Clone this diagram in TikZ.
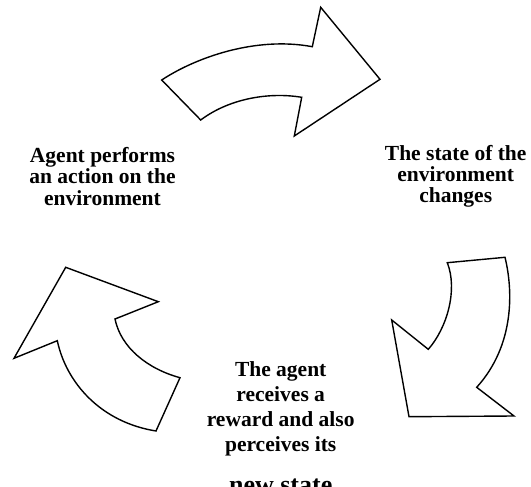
\documentclass[tikz,border=0pt]{standalone}
\usepackage{fontspec}
\setmainfont{Liberation Serif}
\begin{document}
\begin{tikzpicture}[x=1pt,y=-1pt,
  bigarrow/.style={draw=black,fill=white,line width=1.4pt,line join=miter},
  cyclelabel/.style={align=center,inner sep=0pt,anchor=base,
    font=\fontsize{21.5}{21.2}\selectfont\bfseries}]
\useasboundingbox (0,0) rectangle (531,487);
\begin{scope}
\clip (0,0) rectangle (531,487);

% upper arrow: action -> environment changes
\draw[bigarrow] (161.7,80)
  .. controls (195,58) and (255,36) .. (312.3,46.7)
  -- (320.7,7.3) -- (380,79.3) -- (294.3,136) -- (301.7,97.3)
  .. controls (270,92) and (230,98) .. (200.7,120) -- cycle;

% right arrow: environment changes -> reward
\draw[bigarrow] (447.3,262.7) -- (505,257.3)
  .. controls (513,290) and (515,345) .. (476.7,387.3)
  -- (514,416) -- (409,416.7) -- (391.7,320) -- (428.3,349.3)
  .. controls (447,328) and (458,290) .. cycle;

% left arrow: reward -> next action
\draw[bigarrow] (156,431) -- (180,377.7)
  .. controls (148,369) and (121,348) .. (115,319)
  -- (158.3,301.7) -- (65.7,267.3) -- (14,358.3) -- (57.3,340.7)
  .. controls (66,382) and (100,422) .. cycle;

% labels (anchored at the baseline of their last line)
\node[cyclelabel] (act) at (102.5,205)
  {Agent performs\\an action on the\\environment};
\node[cyclelabel] (env) at (455.7,202.7)
  {The state of the\\environment\\changes};
\node[cyclelabel,font=\fontsize{21.5}{25.2}\selectfont\bfseries] (rew) at (280.7,451.7)
  {The agent\\receives a\\reward and also\\perceives its};
\node[cyclelabel,font=\fontsize{26}{26}\selectfont\bfseries] (new) at (280.7,493)
  {new state};
\end{scope}
\end{tikzpicture}
\end{document}
